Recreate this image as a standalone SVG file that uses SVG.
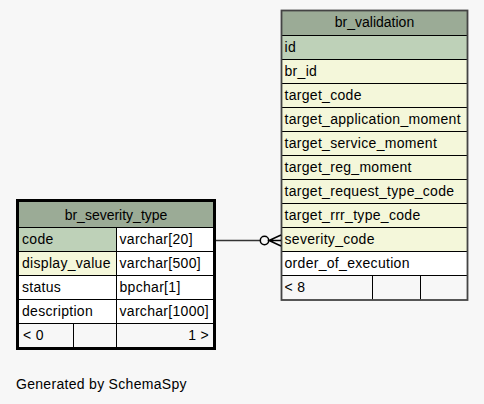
<svg xmlns="http://www.w3.org/2000/svg" width="484" height="404" viewBox="0 0 484 404">
<style>
text{font-family:"Liberation Sans",Arial,sans-serif;font-size:14px;fill:#000;}
.b{letter-spacing:0.3px;}
.h{text-anchor:middle;}
.e{text-anchor:end;}
.hd{fill:#9BAB96;}
.pk{fill:#BED1B8;}
.ix{fill:#F4F7DA;}
.wt{fill:#FFFFFF;}
.bg{fill:#F7F7F7;}
.ln{stroke:#000;stroke-width:1;fill:none;}
</style>
<rect x="0" y="0" width="484" height="404" fill="#F7F7F7"/>
<g id="br_validation">
<rect class="hd" x="281" y="10" width="187" height="25.5"/>
<rect class="pk" x="281" y="35.5" width="187" height="24"/>
<rect class="ix" x="281" y="59.5" width="187" height="192"/>
<rect class="wt" x="281" y="251.5" width="187" height="24"/>
<rect class="bg" x="281" y="275.5" width="187" height="24"/>
<g class="ln">
<path d="M281 35.5H468M281 59.5H468M281 83.5H468M281 107.5H468M281 131.5H468M281 155.5H468M281 179.5H468M281 203.5H468M281 227.5H468M281 251.5H468M281 275.5H468M372.5 275.5V299.5M420.5 275.5V299.5"/>
</g>
<rect x="281.5" y="10.5" width="186" height="289.5" fill="none" stroke="#444" stroke-width="1.8"/>
<text class="h" x="374.5" y="27">br_validation</text>
<text class="b" x="284.5" y="52">id</text>
<text class="b" x="284.5" y="76">br_id</text>
<text class="b" x="284.5" y="100">target_code</text>
<text class="b" x="284.5" y="124">target_application_moment</text>
<text class="b" x="284.5" y="148">target_service_moment</text>
<text class="b" x="284.5" y="172">target_reg_moment</text>
<text class="b" x="284.5" y="196">target_request_type_code</text>
<text class="b" x="284.5" y="220">target_rrr_type_code</text>
<text class="b" x="284.5" y="244">severity_code</text>
<text class="b" x="284.5" y="268">order_of_execution</text>
<text class="b" x="284.5" y="292">&lt; 8</text>
</g>
<g id="br_severity_type">
<rect class="hd" x="17" y="200" width="198" height="28"/>
<rect class="pk" x="17" y="228" width="99" height="24"/>
<rect class="wt" x="116" y="228" width="99" height="24"/>
<rect class="ix" x="17" y="252" width="99" height="24"/>
<rect class="wt" x="116" y="252" width="99" height="24"/>
<rect class="wt" x="17" y="276" width="198" height="48"/>
<rect class="bg" x="17" y="324" width="198" height="25"/>
<g class="ln">
<path d="M17 227.5H215M17 251.5H215M17 275.5H215M17 299.5H215M17 323.5H215M116.5 227.5V349M73.5 323.5V349"/>
</g>
<rect x="17.5" y="200.5" width="197" height="148" fill="none" stroke="#000" stroke-width="3"/>
<text class="h" x="116" y="220">br_severity_type</text>
<text class="b" x="22" y="244">code</text>
<text class="b" x="119.5" y="244">varchar[20]</text>
<text class="b" x="22" y="268">display_value</text>
<text class="b" x="119.5" y="268">varchar[500]</text>
<text class="b" x="22" y="292">status</text>
<text class="b" x="119.5" y="292">bpchar[1]</text>
<text class="b" x="22" y="316">description</text>
<text class="b" x="119.5" y="316">varchar[1000]</text>
<text class="b" x="23" y="340">&lt; 0</text>
<text class="b e" x="209" y="340">1 &gt;</text>
</g>
<g id="connectors">
<path d="M216 240.5H260" stroke="#333" stroke-width="1.5" fill="none"/>
<circle cx="264.5" cy="240.5" r="4.2" fill="#F7F7F7" stroke="#000" stroke-width="1.5"/>
<path d="M281 235L269 240.5L281 246M269 240.5H281" stroke="#000" stroke-width="1.5" fill="none"/>
</g>
<text class="b" x="16" y="389">Generated by SchemaSpy</text>
</svg>
